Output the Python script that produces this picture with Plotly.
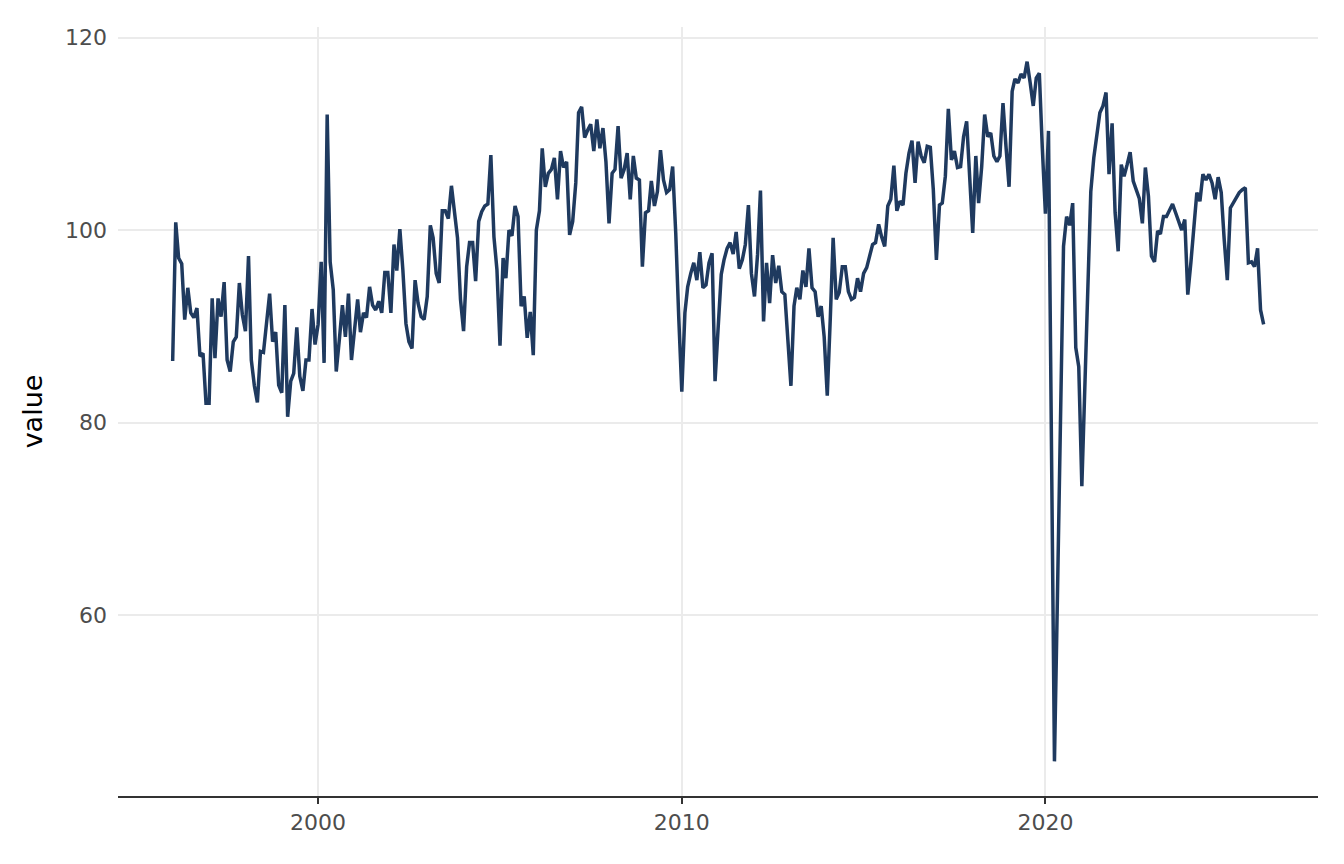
import pandas as pd
import plotly.graph_objects as go

# monthly series, Jan 1996 .. Jan 2026
start_month = "1996-01-01"

value = [
    86.4, 100.8, 97.1, 96.5, 90.7, 94.0, 91.4, 90.9, 91.9, 86.9, 87.2, 82.0,
    82.0, 92.9, 86.7, 92.9, 91.0, 94.6, 86.5, 85.3, 88.4, 88.9, 94.5, 91.2,
    89.5, 97.3, 86.5, 83.8, 82.1, 87.4, 87.3, 90.3, 93.4, 88.4, 89.4, 83.9,
    83.1, 92.2, 80.6, 84.3, 85.1, 89.9, 84.8, 83.3, 86.5, 86.5, 91.8, 88.1,
    90.2, 96.7, 86.2, 112.0, 96.7, 93.8, 85.3, 88.6, 92.2, 88.9, 93.4, 86.5,
    89.5, 92.8, 89.4, 91.4, 90.9, 94.1, 92.2, 91.7, 92.6, 91.4, 95.6, 95.6,
    91.4, 98.5, 95.8, 100.1, 95.9, 90.3, 88.4, 87.7, 94.8, 92.4, 91.0, 90.7,
    93.1, 100.5, 99.2, 95.5, 94.5, 102.0, 102.0, 101.2, 104.6, 101.8, 99.2, 92.8,
    89.5, 96.2, 98.7, 98.7, 94.7, 100.9, 101.9, 102.5, 102.7, 107.8, 99.3, 95.9,
    88.0, 97.1, 95.0, 100.0, 99.4, 102.5, 101.4, 92.1, 93.1, 88.8, 91.5, 87.0,
    100.0, 102.0, 108.5, 104.5, 105.9, 106.3, 107.5, 103.2, 108.2, 106.5, 107.1, 99.5,
    100.9, 104.9, 112.2, 112.8, 109.6, 110.4, 111.0, 108.2, 111.5, 108.5, 110.6, 107.1,
    100.7, 105.9, 106.3, 110.8, 105.4, 106.3, 108.0, 103.2, 107.7, 105.4, 105.2, 96.2,
    101.8, 102.0, 105.1, 102.5, 104.0, 108.3, 105.2, 103.9, 104.2, 106.6, 99.7, 91.0,
    83.2, 91.4, 94.1, 95.5, 96.6, 94.8, 97.7, 94.0, 94.3, 96.6, 97.6, 84.3,
    90.7, 95.4, 96.9, 98.1, 98.7, 97.5, 99.8, 96.0, 96.9, 98.5, 102.6, 95.5,
    93.1, 97.5, 104.1, 90.5, 96.6, 92.4, 97.4, 94.5, 96.3, 93.6, 93.3, 88.6,
    83.8, 92.1, 94.0, 92.8, 95.8, 94.1, 98.1, 94.0, 93.6, 91.0, 92.1, 88.9,
    82.8, 91.0, 99.2, 92.8, 93.5, 96.2, 96.2, 93.6, 92.8, 93.0, 95.0, 93.6,
    95.5, 96.1, 97.3, 98.5, 98.7, 100.6, 99.3, 98.3, 102.5, 103.2, 106.7, 102.0,
    103.0, 102.6, 105.9, 108.0, 109.3, 104.9, 109.2, 107.7, 107.0, 108.7, 108.6, 104.2,
    96.9, 102.6, 102.8, 105.6, 112.6, 107.3, 108.2, 106.5, 106.6, 109.7, 111.3, 105.9,
    99.7, 107.7, 102.8, 106.6, 112.0, 109.7, 110.1, 107.7, 107.1, 107.7, 113.2, 108.7,
    104.5, 114.4, 115.7, 115.3, 116.2, 115.8, 117.5, 115.3, 112.9, 115.8, 116.3, 108.5,
    101.7, 110.3, 77.0, 44.8, 62.0, 80.0, 98.3, 101.4, 100.5, 102.8, 87.8, 85.8,
    73.4, 84.0, 95.0, 104.0, 107.5, 109.8, 112.2, 112.9, 114.3, 105.8, 111.1, 101.8,
    97.8, 106.8, 105.6, 106.8, 108.1, 105.1, 104.2, 103.3, 100.7, 106.5, 103.5, 97.3,
    96.7, 99.9, 99.6, 101.4, 101.4, 102.1, 102.7, 101.8, 100.9, 100.0, 101.1, 93.3,
    96.6, 100.7, 103.9, 103.0, 105.8, 105.2, 105.8, 104.9, 103.2, 105.5, 103.9, 99.0,
    94.8, 102.3, 102.8, 103.3, 103.9, 104.2, 104.4, 96.6, 96.7, 96.2, 98.1, 91.7,
    90.2,
]

dates = pd.date_range(start_month, periods=len(value), freq="MS")

x_ticks = ["2000-01-01", "2010-01-01", "2020-01-01"]
x_tick_labels = ["2000", "2010", "2020"]
y_ticks = [60, 80, 100, 120]

fig = go.Figure()
fig.add_trace(go.Scatter(
    x=dates, y=value, mode="lines",
    line=dict(color="#1f3a5f", width=3.5),
    hoverinfo="x+y", showlegend=False,
))

grid = "#ebebeb"
# page body adds 8px around the figure, margins allow for it
fig.update_layout(
    width=1344, height=864,
    paper_bgcolor="white", plot_bgcolor="white",
    margin=dict(l=110, r=34, t=19, b=76),
    font=dict(family="DejaVu Sans", size=22, color="#4d4d4d"),
    xaxis=dict(
        range=["1994-07-01", "2027-07-01"],
        tickvals=x_ticks, ticktext=x_tick_labels,
        showgrid=True, gridcolor=grid, gridwidth=2.2,
        zeroline=False,
        showline=True, linecolor="#333333", linewidth=2,
        ticks="outside", ticklen=6, tickcolor="#333333", tickwidth=2,
        tickfont=dict(size=22, color="#4d4d4d"),
    ),
    yaxis=dict(
        range=[41.2, 121.1],
        tickvals=y_ticks,
        showgrid=True, gridcolor=grid, gridwidth=2.2,
        zeroline=False, showline=False, ticks="",
        ticklabelstandoff=10,
        tickfont=dict(size=22, color="#4d4d4d"),
        title=dict(text="value", font=dict(size=27, color="black"), standoff=14),
    ),
)

fig.write_html("out.html")
